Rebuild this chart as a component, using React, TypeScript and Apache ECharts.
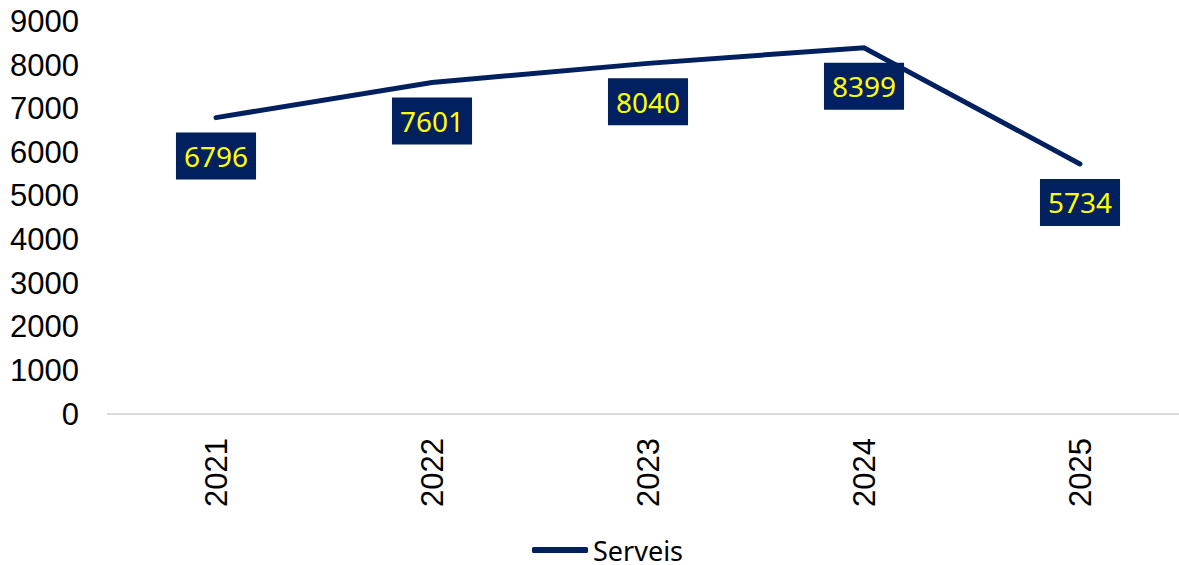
import React, { useEffect, useRef } from "react";
import * as echarts from "echarts";

const categories = ["2021", "2022", "2023", "2024", "2025"];
const serveis = [6796, 7601, 8040, 8399, 5734];
const seriesName = "Serveis";

export default function App() {
  const ref = useRef<HTMLDivElement>(null);
  useEffect(() => {
    if (!ref.current) return;
    const chart = echarts.init(ref.current, null, { renderer: "svg" });
    chart.setOption({
      animation: false,
      backgroundColor: "#ffffff",
      grid: { left: 108, top: 21.5, width: 1080, height: 392.5, containLabel: false },
      legend: {
        data: [seriesName],
        left: 532,
        top: 535,
        padding: 0,
        icon: "roundRect",
        itemWidth: 56,
        itemHeight: 6,
        textStyle: { fontFamily: "Noto Sans", fontSize: 27, color: "#000000", lineHeight: 30 },
      },
      xAxis: {
        type: "category",
        data: categories,
        boundaryGap: true,
        axisTick: { show: false },
        axisLine: { lineStyle: { color: "#d9d9d9", width: 2 } },
        axisLabel: {
          rotate: 90,
          margin: 24,
          fontFamily: "Liberation Sans",
          fontSize: 31,
          color: "#000000",
        },
      },
      yAxis: {
        type: "value",
        min: 0,
        max: 9000,
        interval: 1000,
        splitLine: { show: false },
        axisLine: { show: false },
        axisTick: { show: false },
        axisLabel: {
          margin: 29,
          fontFamily: "Liberation Sans",
          fontSize: 31,
          color: "#000000",
          formatter: (v: number) => String(v),
        },
      },
      series: [
        {
          name: seriesName,
          type: "line",
          data: serveis,
          symbol: "circle",
          symbolSize: 0,
          showSymbol: true,
          lineStyle: { color: "#002060", width: 5, cap: "round", join: "miter" },
          itemStyle: { color: "#002060" },
          label: {
            show: true,
            position: "bottom",
            distance: 15,
            backgroundColor: "#002060",
            color: "#ffff00",
            fontFamily: "Noto Sans",
            fontSize: 28,
            lineHeight: 29,
            padding: [9, 8, 9, 8],
          },
        },
      ],
    });
    return () => chart.dispose();
  }, []);
  return (
    <div
      ref={ref}
      style={{ position: "fixed", left: 0, top: 0, width: 1200, height: 565 }}
    />
  );
}
